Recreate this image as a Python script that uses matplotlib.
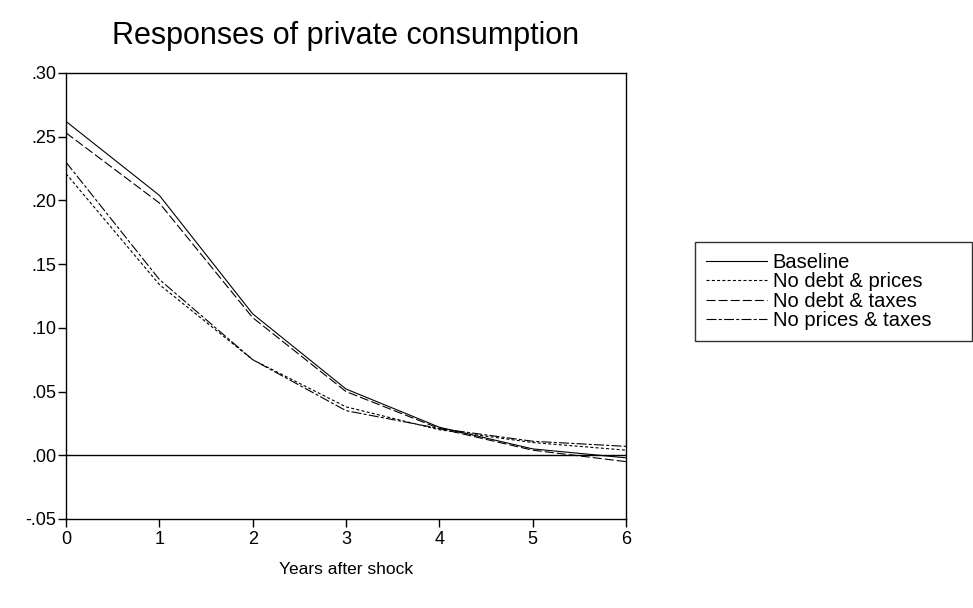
import matplotlib.pyplot as plt
import numpy as np

years = [0, 1, 2, 3, 4, 5, 6]
baseline = [0.262, 0.204, 0.111, 0.052, 0.022, 0.005, -0.002]
no_debt_prices = [0.221, 0.134, 0.075, 0.038, 0.020, 0.010, 0.004]
no_debt_taxes = [0.253, 0.198, 0.108, 0.050, 0.021, 0.004, -0.005]
no_prices_taxes = [0.230, 0.138, 0.075, 0.035, 0.021, 0.011, 0.007]

yticks = [-0.05, 0.00, 0.05, 0.10, 0.15, 0.20, 0.25, 0.30]
ytick_labels = ['-.05', '.00', '.05', '.10', '.15', '.20', '.25', '.30']

plt.rcParams['font.family'] = ['Liberation Sans', 'DejaVu Sans']
plt.rcParams['lines.scale_dashes'] = False
fig = plt.figure(figsize=(9.73, 6.08), dpi=100)
ax = fig.add_axes([0.0678, 0.1464, 0.5756, 0.7336])

lw = 0.8
l1, = ax.plot(years, baseline, color='black', lw=lw, linestyle='-', label='Baseline')
l2, = ax.plot(years, no_debt_prices, color='black', lw=lw, linestyle=(0, (2.2, 1.6)), label='No debt & prices')
l3, = ax.plot(years, no_debt_taxes, color='black', lw=lw, linestyle=(0, (6.5, 2.2)), label='No debt & taxes')
l4, = ax.plot(years, no_prices_taxes, color='black', lw=lw, linestyle=(0, (7.2, 1.6, 2.2, 1.6)), label='No prices & taxes')

# zero line
ax.axhline(0, color='black', lw=1.0)

ax.set_xlim(0, 6)
ax.set_ylim(-0.05, 0.30)
ax.set_xticks(years)
ax.set_yticks(yticks)
ax.set_yticklabels(ytick_labels)
ax.tick_params(direction='out', length=6, width=1, labelsize=13, colors='black')
ax.tick_params(axis='x', pad=3)
ax.tick_params(axis='y', pad=1)
for s in ax.spines.values():
    s.set_linewidth(1.0)

ax.set_xlabel('Years after shock', fontsize=12.5, labelpad=10)
ax.set_title('Responses of private consumption', fontsize=22, pad=21)

# legend box runs to the right edge of the image, as in the original
leg = fig.legend(handles=[l1, l2, l3, l4], loc='upper left', mode='expand',
                 bbox_to_anchor=(695/973, 1 - 342/608, 277/973, 100/608), fontsize=14.5,
                 frameon=True, fancybox=False, edgecolor='black',
                 handlelength=3.0, handletextpad=0.3, labelspacing=0.01,
                 borderpad=0.56, borderaxespad=0)
leg.get_frame().set_linewidth(1.0)

fig.savefig('out.png', dpi=100)
